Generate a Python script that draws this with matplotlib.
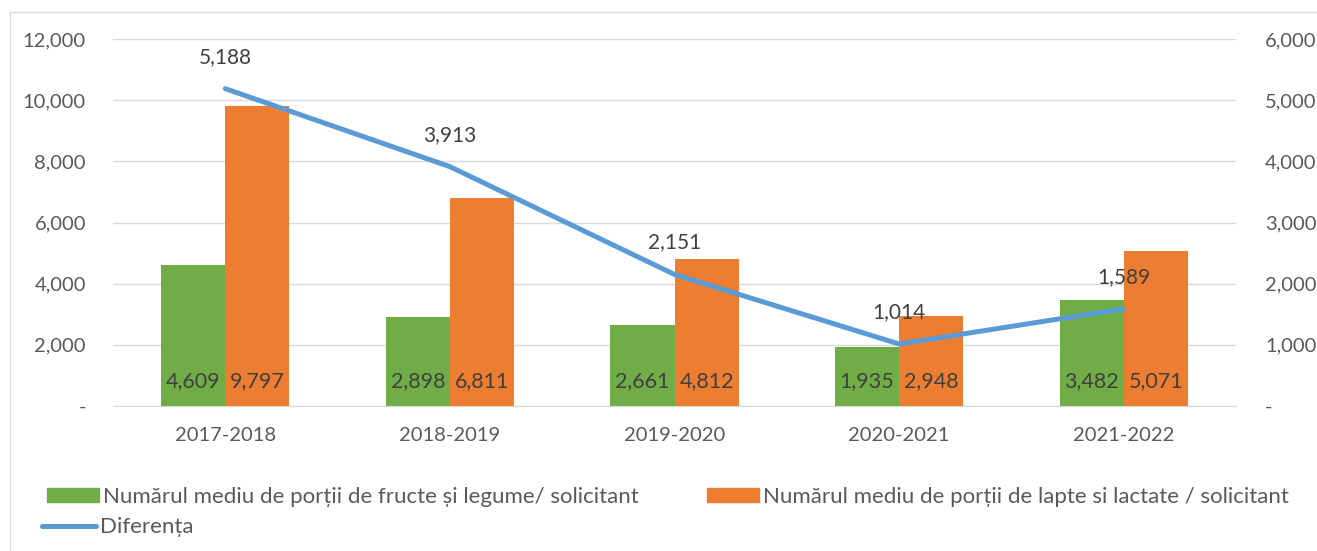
import matplotlib
matplotlib.use("Agg")
import matplotlib.pyplot as plt
from matplotlib.patches import Rectangle, Patch
from matplotlib.lines import Line2D
import numpy as np

seasons = ["2017-2018", "2018-2019", "2019-2020", "2020-2021", "2021-2022"]
fructe = [4609, 2898, 2661, 1935, 3482]
lapte = [9797, 6811, 4812, 2948, 5071]
diferenta = [5188, 3913, 2151, 1014, 1589]

GREEN = "#70AD47"
ORANGE = "#ED7D31"
BLUE = "#5B9BD5"
TXT = "#595959"
LBL = "#404040"
GRID = "#D9D9D9"

plt.rcParams["font.family"] = ["Lato", "DejaVu Sans"]

fig = plt.figure(figsize=(13.17, 5.51), dpi=100)
ax = fig.add_axes([113 / 1317, 1 - 406 / 551, 1123 / 1317, 367 / 551])
ax2 = ax.twinx()

x = np.arange(len(seasons))
w = 0.285
ax.bar(x - w / 2, fructe, w, color=GREEN, zorder=2)
ax.bar(x + w / 2, lapte, w, color=ORANGE, zorder=2)

for i in range(len(seasons)):
    ax.annotate(f"{fructe[i]:,}", (x[i] - w / 2, 0), xytext=(0, 18), textcoords="offset points",
                ha="center", va="center", fontsize=15.5, color=LBL)
    ax.annotate(f"{lapte[i]:,}", (x[i] + w / 2, 0), xytext=(0, 18), textcoords="offset points",
                ha="center", va="center", fontsize=15.5, color=LBL)

ax2.plot(x, diferenta, color=BLUE, linewidth=3.6, solid_capstyle="round", zorder=3)
for i, v in enumerate(diferenta):
    ax2.annotate(f"{v:,}", (x[i], v), xytext=(0, 23), textcoords="offset points",
                 ha="center", va="center", fontsize=15, color=LBL)

ax.set_xlim(-0.5, len(seasons) - 0.5)
ax.set_ylim(0, 12000)
ax2.set_ylim(0, 6000)
ax.set_yticks(range(0, 12001, 2000))
ax.set_yticklabels(["-"] + [f"{v:,}" for v in range(2000, 12001, 2000)])
ax2.set_yticks(range(0, 6001, 1000))
ax2.set_yticklabels(["-"] + [f"{v:,}" for v in range(1000, 6001, 1000)])
ax.set_xticks(x)
ax.set_xticklabels(seasons)

ax.grid(axis="y", color=GRID, linewidth=1, zorder=0)
ax.set_axisbelow(True)
for a in (ax, ax2):
    for s in a.spines.values():
        s.set_visible(False)
    a.tick_params(length=0, labelsize=14.5, labelcolor=TXT)
ax.spines["bottom"].set_visible(True)
ax.spines["bottom"].set_color(GRID)
ax.tick_params(axis="y", pad=19.5)
ax.tick_params(axis="x", pad=15)
ax2.tick_params(axis="y", pad=21)

# outer chart border
fig.patches.append(Rectangle((10 / 1317, -0.05), 1.2, 1 - 12 / 551 + 0.05, transform=fig.transFigure,
                             fill=False, edgecolor=GRID, linewidth=1))

labels = ["Numărul mediu de porții de fructe și legume/ solicitant",
          "Numărul mediu de porții de lapte si lactate / solicitant",
          "Diferența"]
legend_items = [
    (Patch(color=GREEN), labels[0], 47, 497, 2.35),
    (Patch(color=ORANGE), labels[1], 707, 497, 2.35),
    (Line2D([], [], color=BLUE, linewidth=3.6, solid_capstyle="round"), labels[2], 42, 527, 2.45),
]
for h, lab, px, py, hl in legend_items:
    leg = fig.legend([h], [lab], loc="center left", bbox_to_anchor=(px / 1317, 1 - py / 551),
                     frameon=False, fontsize=16, labelcolor=TXT, handlelength=hl, handleheight=0.55,
                     handletextpad=0.18, borderaxespad=0, borderpad=0)

fig.savefig("out.png", dpi=100)
